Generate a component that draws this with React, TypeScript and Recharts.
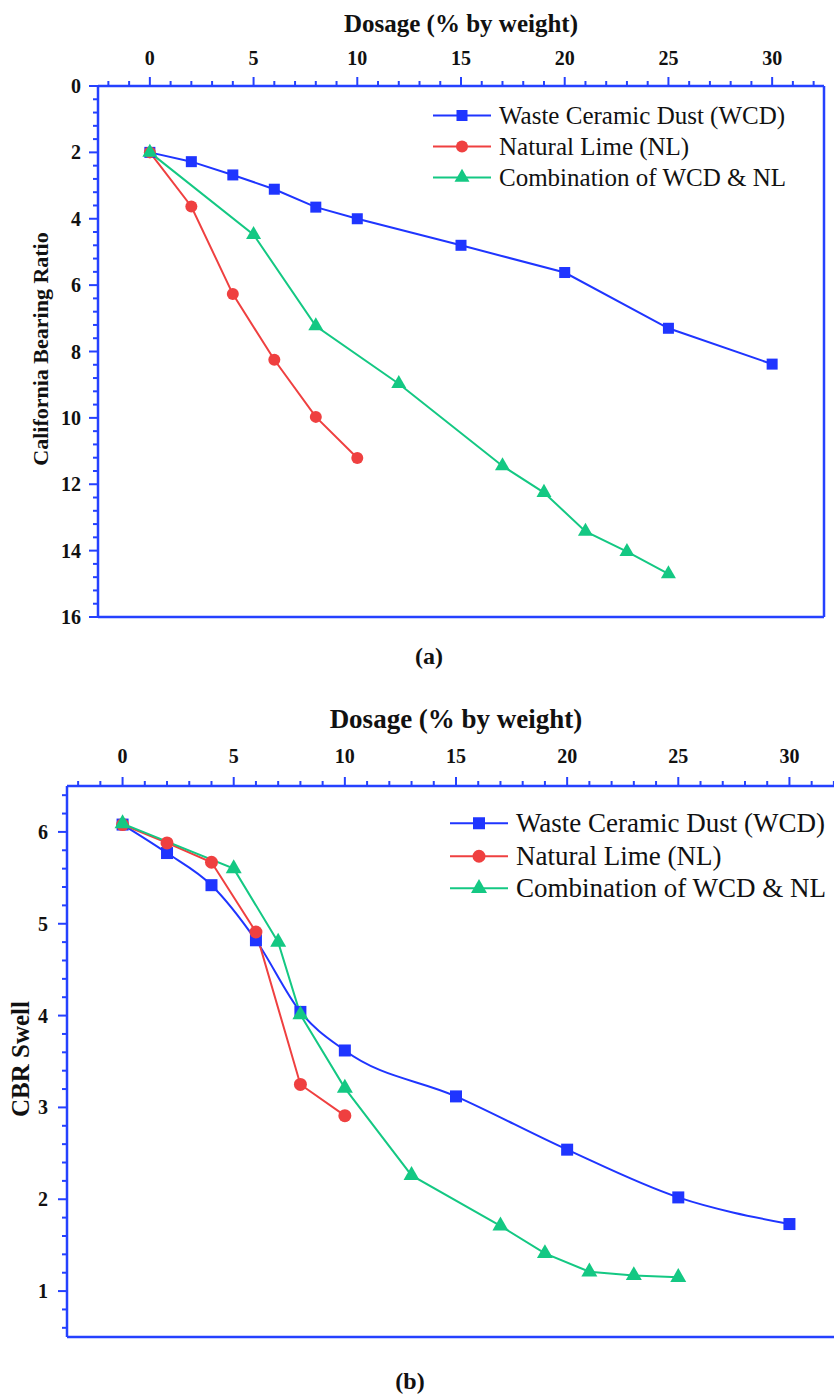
import React from 'react';
import { LineChart, Line, XAxis, YAxis, Legend } from 'recharts';

const AXIS_COLOR = '#2541ff';
const WCD_COLOR = '#1f35ff';
const NL_COLOR = '#ef4040';
const MIX_COLOR = '#14c883';
const FONT = '"Liberation Serif", "Times New Roman", serif';

const SERIES_NAMES = ['Waste Ceramic Dust (WCD)', 'Natural Lime (NL)', 'Combination of WCD & NL'];
const SERIES_COLORS = [WCD_COLOR, NL_COLOR, MIX_COLOR];

// (a) California Bearing Ratio vs dosage
const cbrWcdDosage = [0, 2, 4, 6, 8, 10, 15, 20, 25, 30];
const cbrWcd = [2.0, 2.28, 2.68, 3.11, 3.65, 4.0, 4.8, 5.62, 7.3, 8.38];
const cbrNlDosage = [0, 2, 4, 6, 8, 10];
const cbrNl = [2.0, 3.63, 6.27, 8.25, 9.97, 11.21];
const cbrMixDosage = [0, 5, 8, 12, 17, 19, 21, 23, 25];
const cbrMix = [2.0, 4.48, 7.23, 8.97, 11.45, 12.25, 13.42, 14.03, 14.7];

// (b) CBR swell vs dosage
const swellWcdDosage = [0, 2, 4, 6, 8, 10, 15, 20, 25, 30];
const swellWcd = [6.08, 5.77, 5.42, 4.82, 4.04, 3.62, 3.12, 2.54, 2.02, 1.73];
const swellNlDosage = [0, 2, 4, 6, 8, 10];
const swellNl = [6.08, 5.88, 5.67, 4.91, 3.25, 2.91];
const swellMixDosage = [0, 5, 7, 8, 10, 13, 17, 19, 21, 23, 25];
const swellMix = [6.09, 5.6, 4.8, 4.01, 3.21, 2.26, 1.71, 1.41, 1.21, 1.17, 1.15];

// axis ticks (majors are labelled, the rest are minor marks)
const dosageLabels = [0, 5, 10, 15, 20, 25, 30];
const cbrLabels = [0, 2, 4, 6, 8, 10, 12, 14, 16];
const swellLabels = [1, 2, 3, 4, 5, 6];

const steps = (from: number, to: number, step: number) => {
  const out: number[] = [];
  for (let v = from; v <= to + 1e-9; v += step) out.push(Math.round(v * 100) / 100);
  return out;
};
const dosageTicks = steps(-2, 32, 1);
const cbrTicks = steps(0, 16, 0.4);
const swellTicks = steps(0.6, 6.4, 0.2);

const toPoints = (xs: number[], ys: number[]) => xs.map((x, i) => ({ x, y: ys[i] }));

type Shape = 'square' | 'circle' | 'triangle';
const SHAPES: Shape[] = ['square', 'circle', 'triangle'];

const Marker = ({ shape, cx, cy, size, color }: { shape: Shape; cx: number; cy: number; size: number; color: string }) => {
  if (shape === 'square') return <rect x={cx - size / 2} y={cy - size / 2} width={size} height={size} fill={color} />;
  if (shape === 'circle') return <circle cx={cx} cy={cy} r={size / 2} fill={color} />;
  const h = size * 0.87;
  return (
    <polygon
      points={`${cx},${cy - (h * 2) / 3} ${cx - size / 2},${cy + h / 3} ${cx + size / 2},${cy + h / 3}`}
      fill={color}
    />
  );
};

const dotRenderer = (shape: Shape, size: number, color: string) => (p: any) =>
  <Marker key={`${shape}-${p.index}`} shape={shape} cx={p.cx} cy={p.cy} size={size} color={color} />;

type Side = 'top' | 'bottom' | 'left' | 'right';

// draws the tick marks itself so majors can be longer than minors
const makeTick = (side: Side, majors: number[], labelled: boolean, gap: number) => (props: any) => {
  const { x, y, payload } = props;
  const v = payload.value;
  const major = majors.some((l) => Math.abs(l - v) < 1e-6);
  const len = major ? 9 : 5;
  let line;
  let text = null;
  if (side === 'top') {
    line = <line x1={x} y1={y} x2={x} y2={y - len} />;
    if (labelled && major) text = <text x={x} y={y - gap} textAnchor="middle">{v}</text>;
  } else if (side === 'bottom') {
    line = <line x1={x} y1={y} x2={x} y2={y + len} />;
  } else if (side === 'left') {
    line = <line x1={x} y1={y} x2={x - len} y2={y} />;
    if (labelled && major) text = <text x={x - gap} y={y + 7} textAnchor="end">{v}</text>;
  } else {
    line = <line x1={x} y1={y} x2={x + len} y2={y} />;
  }
  return (
    <g>
      <g stroke={AXIS_COLOR} strokeWidth={2}>{line}</g>
      {text && (
        <g fontFamily={FONT} fontWeight={700} fontSize={20} fill="#111">
          {text}
        </g>
      )}
    </g>
  );
};

const axisLine = { stroke: AXIS_COLOR, strokeWidth: 2.5 };

const LegendBox = ({ fontSize, rowGap, sizes }: { fontSize: number; rowGap: number; sizes: number[] }) => (
  <div style={{ fontFamily: FONT, fontSize, color: '#111', lineHeight: `${rowGap}px` }}>
    {SERIES_NAMES.map((name, i) => (
      <div key={name} style={{ display: 'flex', alignItems: 'center', height: rowGap, whiteSpace: 'nowrap' }}>
        <svg width={58} height={rowGap} style={{ marginRight: 8 }}>
          <line x1={0} y1={rowGap / 2} x2={58} y2={rowGap / 2} stroke={SERIES_COLORS[i]} strokeWidth={2} />
          <Marker shape={SHAPES[i]} cx={29} cy={rowGap / 2} size={sizes[i]} color={SERIES_COLORS[i]} />
        </svg>
        <span>{name}</span>
      </div>
    ))}
  </div>
);

const CbrPanel = () => (
  <LineChart width={834} height={680} margin={{ top: 56, left: 58, right: 0, bottom: 53 }}>
    <XAxis xAxisId="top" orientation="top" type="number" dataKey="x" domain={[-2.5, 32.5]} ticks={dosageTicks}
      interval={0} height={30} tickSize={0} tickMargin={0} tickLine={false} axisLine={axisLine}
      tick={makeTick('top', dosageLabels, true, 21)} />
    <XAxis xAxisId="bottom" orientation="bottom" type="number" dataKey="x" domain={[-2.5, 32.5]} ticks={dosageTicks}
      interval={0} height={10} tickSize={0} tickMargin={0} tickLine={false} axisLine={axisLine}
      tick={makeTick('bottom', dosageLabels, false, 0)} />
    <YAxis yAxisId="left" type="number" reversed domain={[0, 16]} ticks={cbrTicks} interval={0} width={40}
      tickSize={0} tickMargin={0} tickLine={false} axisLine={axisLine} tick={makeTick('left', cbrLabels, true, 17)} />
    <YAxis yAxisId="right" orientation="right" type="number" reversed domain={[0, 16]} ticks={cbrTicks} interval={0}
      width={10} tickSize={0} tickMargin={0} tickLine={false} axisLine={axisLine}
      tick={makeTick('right', cbrLabels, false, 0)} />
    <Legend layout="horizontal" verticalAlign="middle" align="center"
      wrapperStyle={{ top: 100, left: 433, width: 'auto' }}
      content={() => <LegendBox fontSize={25} rowGap={31} sizes={[11, 12, 15]} />} />
    <Line data={toPoints(cbrWcdDosage, cbrWcd)} dataKey="y" name={SERIES_NAMES[0]} xAxisId="top" yAxisId="left"
      type="linear" stroke={WCD_COLOR} strokeWidth={2} dot={dotRenderer('square', 11, WCD_COLOR)} isAnimationActive={false} />
    <Line data={toPoints(cbrNlDosage, cbrNl)} dataKey="y" name={SERIES_NAMES[1]} xAxisId="top" yAxisId="left"
      type="linear" stroke={NL_COLOR} strokeWidth={2} dot={dotRenderer('circle', 12, NL_COLOR)} isAnimationActive={false} />
    <Line data={toPoints(cbrMixDosage, cbrMix)} dataKey="y" name={SERIES_NAMES[2]} xAxisId="top" yAxisId="left"
      type="linear" stroke={MIX_COLOR} strokeWidth={2} dot={dotRenderer('triangle', 15, MIX_COLOR)} isAnimationActive={false} />
  </LineChart>
);

const SwellPanel = () => (
  <LineChart width={870} height={696} margin={{ top: 56, left: 27, right: 15, bottom: 49 }}>
    <XAxis xAxisId="top" orientation="top" type="number" dataKey="x" domain={[-2.5, 32.5]} ticks={dosageTicks}
      interval={0} height={30} tickSize={0} tickMargin={0} tickLine={false} axisLine={axisLine}
      tick={makeTick('top', dosageLabels, true, 23)} />
    <XAxis xAxisId="bottom" orientation="bottom" type="number" dataKey="x" domain={[-2.5, 32.5]} ticks={dosageTicks}
      interval={0} height={10} tickSize={0} tickMargin={0} tickLine={false} axisLine={axisLine}
      tick={makeTick('bottom', dosageLabels, false, 0)} />
    <YAxis yAxisId="left" type="number" domain={[0.5, 6.5]} ticks={swellTicks} interval={0} width={40}
      tickSize={0} tickMargin={0} tickLine={false} axisLine={axisLine} tick={makeTick('left', swellLabels, true, 19)} />
    <YAxis yAxisId="right" orientation="right" type="number" domain={[0.5, 6.5]} ticks={swellTicks} interval={0}
      width={10} tickSize={0} tickMargin={0} tickLine={false} axisLine={axisLine}
      tick={makeTick('right', swellLabels, false, 0)} />
    <Legend layout="horizontal" verticalAlign="middle" align="center"
      wrapperStyle={{ top: 107, left: 450, width: 'auto' }}
      content={() => <LegendBox fontSize={27} rowGap={32.5} sizes={[12, 13, 16]} />} />
    <Line data={toPoints(swellWcdDosage, swellWcd)} dataKey="y" name={SERIES_NAMES[0]} xAxisId="top" yAxisId="left"
      type="monotone" stroke={WCD_COLOR} strokeWidth={2} dot={dotRenderer('square', 12, WCD_COLOR)} isAnimationActive={false} />
    <Line data={toPoints(swellNlDosage, swellNl)} dataKey="y" name={SERIES_NAMES[1]} xAxisId="top" yAxisId="left"
      type="linear" stroke={NL_COLOR} strokeWidth={2} dot={dotRenderer('circle', 13, NL_COLOR)} isAnimationActive={false} />
    <Line data={toPoints(swellMixDosage, swellMix)} dataKey="y" name={SERIES_NAMES[2]} xAxisId="top" yAxisId="left"
      type="linear" stroke={MIX_COLOR} strokeWidth={2} dot={dotRenderer('triangle', 16, MIX_COLOR)} isAnimationActive={false} />
  </LineChart>
);

export default function App() {
  return (
    <div style={{ position: 'absolute', left: 0, top: 0, width: 834, height: 1396, overflow: 'hidden', background: '#fff' }}>
      <div style={{ position: 'absolute', left: 0, top: 0 }}>
        <CbrPanel />
      </div>
      <div style={{ position: 'absolute', left: 0, top: 700 }}>
        <SwellPanel />
      </div>
      <svg width={834} height={1396} style={{ position: 'absolute', left: 0, top: 0, pointerEvents: 'none' }}
        fontFamily={FONT} fontWeight={700} fill="#111">
        <text x={461} y={32} textAnchor="middle" fontSize={25}>Dosage (% by weight)</text>
        <text x={48} y={349} textAnchor="middle" fontSize={22} transform="rotate(-90 48 349)">
          California Bearing Ratio
        </text>
        <text x={429} y={664} textAnchor="middle" fontSize={24}>(a)</text>
        <text x={456} y={728} textAnchor="middle" fontSize={27}>Dosage (% by weight)</text>
        <text x={29} y={1059} textAnchor="middle" fontSize={25} transform="rotate(-90 29 1059)">
          CBR Swell
        </text>
        <text x={410} y={1389} textAnchor="middle" fontSize={24}>(b)</text>
      </svg>
    </div>
  );
}
